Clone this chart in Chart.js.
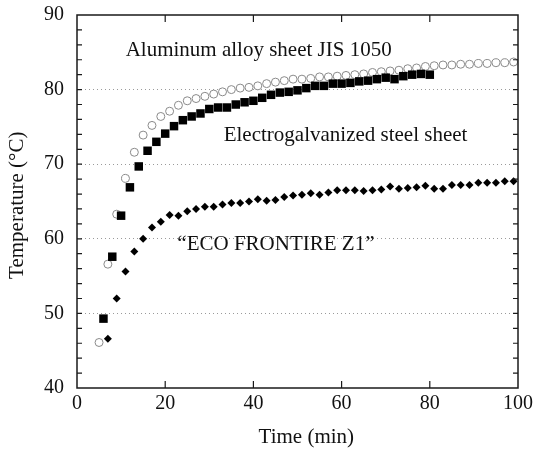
<!DOCTYPE html>
<html>
<head>
<meta charset="utf-8">
<script src="https://cdn.jsdelivr.net/npm/chart.js@4.4.1/dist/chart.umd.min.js"></script>
<style>
  html, body { margin:0; padding:0; background:#fff; }
  #wrap { width:535px; height:450px; }
</style>
</head>
<body>
<div id="wrap"><canvas id="tempChart"></canvas></div>
<script>
/* temperature rise of three roof sheets */

const alTime  = [5,7,9,11,13,15,17,19,21,23,25,27,29,31,33,35,37,39,41,43,45,47,49,51,53,55,57,59,61,63,65,67,69,71,73,75,77,79,81,83,85,87,89,91,93,95,97,99];
const alTemp  = [46.1,56.6,63.3,68.1,71.6,73.9,75.2,76.4,77.1,77.9,78.5,78.8,79.1,79.4,79.7,80.0,80.2,80.3,80.5,80.8,81.0,81.2,81.4,81.4,81.5,81.7,81.7,81.8,81.9,82.0,82.1,82.3,82.4,82.5,82.6,82.8,82.9,83.1,83.2,83.3,83.3,83.4,83.4,83.5,83.5,83.6,83.6,83.7];

const egTime  = [6,8,10,12,14,16,18,20,22,24,26,28,30,32,34,36,38,40,42,44,46,48,50,52,54,56,58,60,62,64,66,68,70,72,74,76,78,80];
const egTemp  = [49.3,57.6,63.1,66.9,69.7,71.8,73.0,74.1,75.1,75.9,76.4,76.8,77.4,77.6,77.6,78.0,78.3,78.5,78.9,79.3,79.6,79.7,79.9,80.2,80.5,80.5,80.8,80.8,80.9,81.1,81.2,81.4,81.6,81.4,81.8,82.0,82.1,82.0];

const ecoTime = [7,9,11,13,15,17,19,21,23,25,27,29,31,33,35,37,39,41,43,45,47,49,51,53,55,57,59,61,63,65,67,69,71,73,75,77,79,81,83,85,87,89,91,93,95,97,99];
const ecoTemp = [46.6,52.0,55.6,58.3,60.0,61.5,62.3,63.2,63.1,63.7,64.0,64.3,64.3,64.6,64.8,64.8,65.0,65.3,65.1,65.2,65.6,65.8,65.9,66.1,65.9,66.2,66.5,66.5,66.5,66.4,66.5,66.6,67.0,66.7,66.8,66.9,67.1,66.7,66.7,67.2,67.2,67.2,67.5,67.5,67.5,67.7,67.7];

const xTicks = [0,20,40,60,80,100];
const yTicks = [40,50,60,70,80,90];

const notes = [
    { text:'Aluminum alloy sheet JIS 1050',  x:41.2, y:85.3 },
    { text:'Electrogalvanized steel sheet',  x:60.9, y:73.9 },
    { text:'\u201CECO FRONTIRE Z1\u201D',    x:45.1, y:59.2 },
];

const xTitle = 'Time (min)';
const yTitle = 'Temperature (\u00B0C)';

const FONT = '"Liberation Serif", "Times New Roman", serif';
const pts = (xs, ys) => xs.map((x, i) => ({ x, y: ys[i] }));

/* frame with inward ticks, axis titles, text labels */
const framePlugin = {
    id: 'frame',
    afterDatasetsDraw(chart) {
        const { ctx, chartArea: a, scales: { x, y } } = chart;
        ctx.save();
        ctx.strokeStyle = '#1a1a1a';
        ctx.lineWidth = 1.5;
        ctx.strokeRect(a.left, a.top, a.right - a.left, a.bottom - a.top);

        ctx.lineWidth = 1.2;
        ctx.beginPath();
        for (let v = 42; v < 90; v += 2) {
            const py = y.getPixelForValue(v);
            ctx.moveTo(a.left, py);  ctx.lineTo(a.left + 5, py);
            ctx.moveTo(a.right, py); ctx.lineTo(a.right - 5, py);
        }
        xTicks.slice(1, -1).forEach(v => {
            const px = x.getPixelForValue(v);
            ctx.moveTo(px, a.bottom); ctx.lineTo(px, a.bottom - 7);
            ctx.moveTo(px, a.top);    ctx.lineTo(px, a.top + 7);
        });
        ctx.stroke();

        ctx.fillStyle = '#111';
        ctx.font = `21px ${FONT}`;
        ctx.textAlign = 'center';
        ctx.textBaseline = 'middle';
        notes.forEach(n => ctx.fillText(n.text, x.getPixelForValue(n.x), y.getPixelForValue(n.y)));

        /* axis titles sit a little off-centre in the original */
        ctx.fillText(xTitle, x.getPixelForValue(52), a.bottom + 49);
        ctx.translate(17, y.getPixelForValue(64.5));
        ctx.rotate(-Math.PI / 2);
        ctx.fillText(yTitle, 0, 0);
        ctx.restore();
    }
};

new Chart(document.getElementById('tempChart').getContext('2d'), {
    type: 'scatter',
    data: {
        datasets: [
            { label:'Electrogalvanized steel sheet', data:pts(egTime, egTemp), pointStyle:'rect', pointRadius:6, backgroundColor:'#000', borderColor:'#000', borderWidth:0 },
            { label:'ECO FRONTIRE Z1', data:pts(ecoTime, ecoTemp), pointStyle:'rectRot', pointRadius:4, backgroundColor:'#000', borderColor:'#000', borderWidth:0 },
            { label:'Aluminum alloy sheet JIS 1050', data:pts(alTime, alTemp), pointStyle:'circle', pointRadius:4, backgroundColor:'#fff', borderColor:'#8a8a8a', borderWidth:1 },
        ]
    },
    options: {
        responsive: true,
        maintainAspectRatio: false,
        animation: false,
        layout: { autoPadding:false, padding:{ top:15, right:17, left:0, bottom:0 } },
        plugins: { legend:{ display:false }, tooltip:{ enabled:false } },
        scales: {
            x: {
                type: 'linear', min:0, max:100,
                afterBuildTicks: s => { s.ticks = xTicks.map(v => ({ value:v })); },
                afterFit: s => { s.height = 62; s.paddingLeft = 0; s.paddingRight = 0; },
                grid: { display:false, drawTicks:false },
                border: { display:false },
                ticks: { color:'#111', font:{ family:FONT, size:20 }, padding:4, maxRotation:0 },
                title: { display:false }
            },
            y: {
                min:40, max:90,
                afterBuildTicks: s => { s.ticks = yTicks.map(v => ({ value:v })); },
                afterFit: s => { s.width = 77; s.paddingTop = 0; s.paddingBottom = 0; },
                grid: {
                    drawTicks:false,
                    color: c => (c.tick && (c.tick.value === 40 || c.tick.value === 90)) ? 'rgba(0,0,0,0)' : '#9a9a9a',
                    lineWidth: 1
                },
                border: { display:false, dash:[1,3] },
                ticks: { color:'#111', font:{ family:FONT, size:20 }, padding:13 },
                title: { display:false }
            }
        }
    },
    plugins: [framePlugin]
});
</script>
</body>
</html>
